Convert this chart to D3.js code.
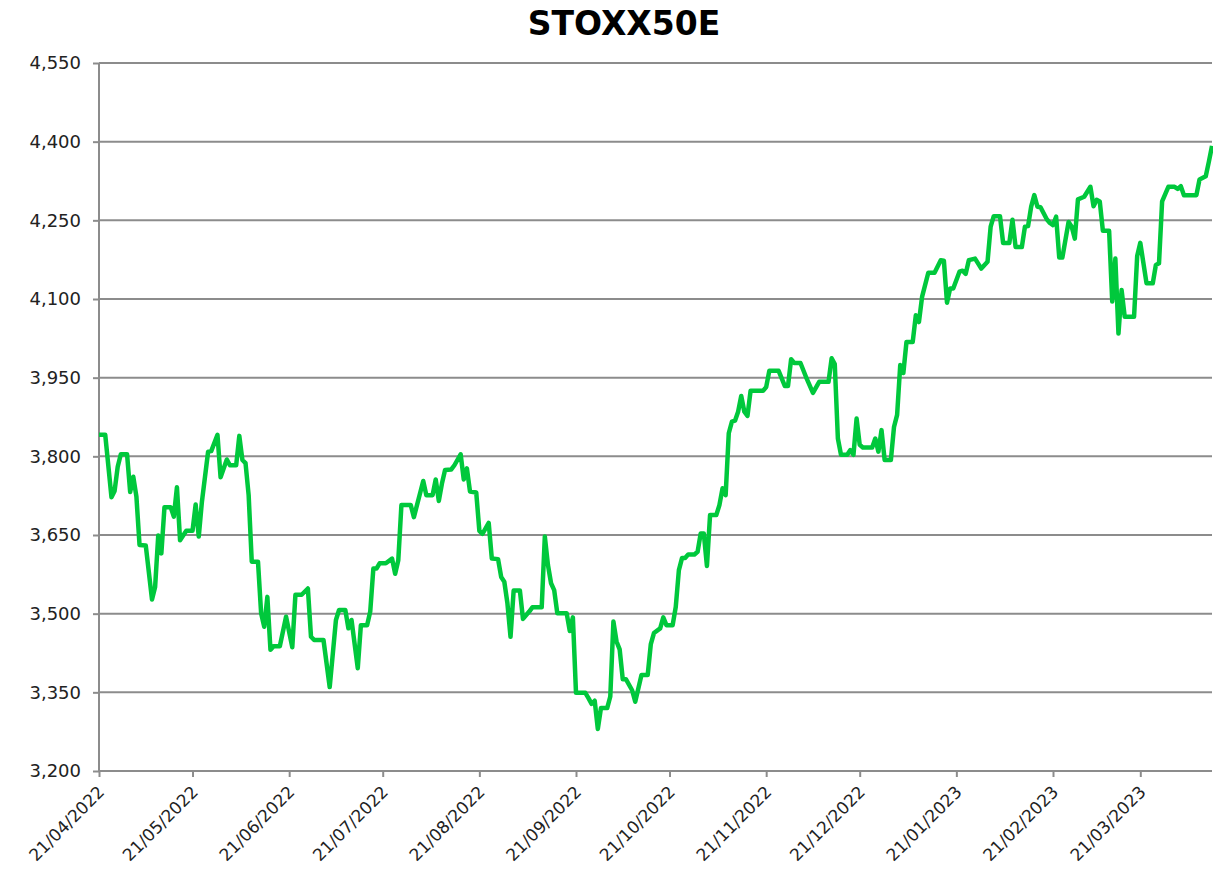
<!DOCTYPE html>
<html>
<head>
<meta charset="utf-8">
<script src="https://cdn.jsdelivr.net/npm/d3@7"></script>
<style>
  body { margin: 0; background: #fff; }
  svg { display: block; font-family: "DejaVu Sans", Verdana, sans-serif; }
  .axis text { fill: #222; font-family: "DejaVu Sans", Verdana, sans-serif; }
  .axis path, .axis line { stroke: #8c8c8c; stroke-width: 2; }
  .grid line { stroke: #8c8c8c; stroke-width: 2; }
</style>
</head>
<body>
<svg id="chart"></svg>
<script>
var title = "STOXX50E";

// closing levels
var dates = [
  "2022-04-21","2022-04-23","2022-04-25","2022-04-26","2022-04-27","2022-04-28","2022-04-30",
  "2022-05-01","2022-05-02","2022-05-03","2022-05-04","2022-05-06","2022-05-08","2022-05-09",
  "2022-05-10","2022-05-11","2022-05-12","2022-05-14","2022-05-15","2022-05-16","2022-05-17",
  "2022-05-19","2022-05-21","2022-05-22","2022-05-23","2022-05-24","2022-05-26","2022-05-27",
  "2022-05-29","2022-05-30","2022-06-01","2022-06-02","2022-06-04","2022-06-05","2022-06-06",
  "2022-06-07","2022-06-08","2022-06-09","2022-06-11","2022-06-12","2022-06-13","2022-06-14",
  "2022-06-15","2022-06-16","2022-06-18","2022-06-20","2022-06-22","2022-06-23","2022-06-25",
  "2022-06-27","2022-06-28","2022-06-29","2022-07-02","2022-07-04","2022-07-06","2022-07-07",
  "2022-07-09","2022-07-10","2022-07-11","2022-07-13","2022-07-14","2022-07-16","2022-07-17",
  "2022-07-18","2022-07-19","2022-07-20","2022-07-22","2022-07-24","2022-07-25","2022-07-26",
  "2022-07-27","2022-07-30","2022-07-31","2022-08-03","2022-08-04","2022-08-06","2022-08-07",
  "2022-08-08","2022-08-09","2022-08-10","2022-08-12","2022-08-13","2022-08-15","2022-08-16",
  "2022-08-17","2022-08-18","2022-08-20","2022-08-21","2022-08-22","2022-08-24","2022-08-25",
  "2022-08-27","2022-08-28","2022-08-29","2022-08-30","2022-08-31","2022-09-01","2022-09-03",
  "2022-09-04","2022-09-06","2022-09-07","2022-09-10","2022-09-11","2022-09-12","2022-09-13",
  "2022-09-14","2022-09-15","2022-09-18","2022-09-19","2022-09-20","2022-09-21","2022-09-24",
  "2022-09-25","2022-09-26","2022-09-27","2022-09-28","2022-09-29","2022-10-01","2022-10-02",
  "2022-10-03","2022-10-04","2022-10-05","2022-10-06","2022-10-07","2022-10-09","2022-10-10",
  "2022-10-12","2022-10-14","2022-10-15","2022-10-16","2022-10-18","2022-10-19","2022-10-20",
  "2022-10-22","2022-10-23","2022-10-24","2022-10-25","2022-10-26","2022-10-27","2022-10-29",
  "2022-10-30","2022-10-31","2022-11-01","2022-11-02","2022-11-03","2022-11-05","2022-11-06",
  "2022-11-07","2022-11-08","2022-11-09","2022-11-10","2022-11-11","2022-11-12","2022-11-13",
  "2022-11-14","2022-11-15","2022-11-16","2022-11-20","2022-11-21","2022-11-22","2022-11-25",
  "2022-11-27","2022-11-28","2022-11-29","2022-11-30","2022-12-02","2022-12-04","2022-12-06",
  "2022-12-08","2022-12-11","2022-12-12","2022-12-13","2022-12-14","2022-12-15","2022-12-17",
  "2022-12-18","2022-12-19","2022-12-20","2022-12-21","2022-12-22","2022-12-25","2022-12-26",
  "2022-12-27","2022-12-28","2022-12-29","2022-12-31","2023-01-01","2023-01-02","2023-01-03",
  "2023-01-04","2023-01-05","2023-01-07","2023-01-08","2023-01-09","2023-01-10","2023-01-12",
  "2023-01-14","2023-01-16","2023-01-17","2023-01-18","2023-01-19","2023-01-20","2023-01-22",
  "2023-01-23","2023-01-24","2023-01-25","2023-01-27","2023-01-29","2023-01-31","2023-02-01",
  "2023-02-02","2023-02-04","2023-02-05","2023-02-07","2023-02-08","2023-02-09","2023-02-11",
  "2023-02-12","2023-02-13","2023-02-14","2023-02-15","2023-02-16","2023-02-17","2023-02-19",
  "2023-02-20","2023-02-21","2023-02-22","2023-02-23","2023-02-24","2023-02-26","2023-02-27",
  "2023-02-28","2023-03-01","2023-03-03","2023-03-05","2023-03-06","2023-03-07","2023-03-08",
  "2023-03-09","2023-03-11","2023-03-12","2023-03-13","2023-03-14","2023-03-15","2023-03-16",
  "2023-03-19","2023-03-20","2023-03-21","2023-03-23","2023-03-25","2023-03-26","2023-03-27",
  "2023-03-28","2023-03-30","2023-04-01","2023-04-02","2023-04-03","2023-04-04","2023-04-08",
  "2023-04-09","2023-04-11","2023-04-12","2023-04-13"
];
var closes = [
  3841,3841,3722,3734,3780,3804,3804,
  3732,3761,3723,3631,3630,3527,3551,
  3649,3615,3703,3703,3685,3741,3640,
  3658,3658,3708,3647,3713,3809,3810,
  3841,3760,3794,3783,3783,3839,3793,
  3787,3726,3599,3599,3501,3475,3532,
  3431,3438,3438,3494,3436,3536,3536,
  3548,3456,3450,3450,3360,3488,3507,
  3507,3472,3488,3396,3478,3478,3504,
  3586,3586,3596,3596,3605,3576,3602,
  3707,3707,3684,3753,3726,3726,3756,
  3715,3748,3774,3775,3783,3804,3756,
  3777,3733,3731,3658,3652,3673,3605,
  3604,3570,3561,3520,3456,3544,3544,
  3490,3504,3512,3512,3647,3593,3558,
  3545,3501,3501,3467,3493,3349,3349,
  3339,3328,3334,3280,3320,3320,3342,
  3485,3447,3432,3375,3375,3354,3332,
  3383,3383,3442,3463,3472,3493,3478,
  3478,3513,3583,3606,3606,3613,3613,
  3618,3653,3653,3591,3688,3688,3707,
  3739,3726,3844,3866,3868,3885,3915,
  3885,3877,3925,3925,3932,3963,3963,
  3934,3934,3985,3978,3978,3948,3921,
  3942,3942,3987,3976,3834,3803,3803,
  3812,3803,3872,3822,3817,3817,3834,
  3809,3850,3793,3793,3856,3879,3974,
  3959,4018,4018,4069,4056,4104,4150,
  4150,4174,4173,4093,4120,4120,4152,
  4154,4148,4174,4177,4158,4171,4238,
  4258,4258,4207,4207,4251,4199,4199,
  4238,4239,4276,4298,4276,4275,4252,
  4245,4241,4257,4179,4179,4247,4238,
  4215,4290,4295,4314,4277,4289,4286,
  4230,4230,4095,4177,4034,4117,4066,
  4066,4182,4207,4130,4130,4165,4168,
  4286,4314,4314,4310,4315,4298,4298,
  4328,4334,4362,4392
];

var yTicks = [3200, 3350, 3500, 3650, 3800, 3950, 4100, 4250, 4400, 4550];
var xTicks = ["2022-04-21","2022-05-21","2022-06-21","2022-07-21","2022-08-21","2022-09-21",
              "2022-10-21","2022-11-21","2022-12-21","2023-01-21","2023-02-21","2023-03-21"];
var xStart = "2022-04-21", xEnd = "2023-04-13";

var width = 1213;
var height = 873;
var margin = {top: 63, right: 1, left: 99, bottom: 102};

var parse = d3.timeParse("%Y-%m-%d");
var data = dates.map((d, i) => ({date: parse(d), value: closes[i]}));

var svg = d3.select("#chart")
    .attr("width", width)
    .attr("height", height);

var x = d3.scaleTime()
    .domain([parse(xStart), parse(xEnd)])
    .range([margin.left, width - margin.right]);

var y = d3.scaleLinear()
    .domain([yTicks[0], yTicks[yTicks.length - 1]])
    .range([height - margin.bottom, margin.top]);

// horizontal gridlines
svg.append("g")
    .attr("class", "grid")
  .selectAll("line")
  .data(yTicks.slice(1))
  .enter()
  .append("line")
    .attr("x1", margin.left)
    .attr("x2", width - margin.right)
    .attr("y1", d => y(d))
    .attr("y2", d => y(d));

// y axis
svg.append("g")
    .attr("class", "axis")
    .attr("transform", "translate(" + margin.left + ",0)")
    .call(d3.axisLeft(y)
      .tickValues(yTicks)
      .tickSize(6)
      .tickPadding(12)
      .tickFormat(d3.format(",")))
    .call(g => g.select(".domain").attr("d", "M0," + y(yTicks[0]) + "V" + y(yTicks[yTicks.length - 1])))
    .selectAll("text")
      .style("font-size", "18px");

// x axis
var xAxis = svg.append("g")
    .attr("class", "axis")
    .attr("transform", "translate(0," + y(yTicks[0]) + ")")
    .call(d3.axisBottom(x)
      .tickValues(xTicks.map(parse))
      .tickSize(6)
      .tickFormat(d3.timeFormat("%d/%m/%Y")));

xAxis.select(".domain").attr("d", "M" + margin.left + ",0H" + (width - margin.right));

xAxis.selectAll("text")
    .style("font-size", "17px")
    .style("text-anchor", "end")
    .attr("x", 0)
    .attr("y", 0)
    .attr("dy", 0)
    .attr("transform", "translate(6,22) rotate(-45)");

// the index line
var line = d3.line()
    .x(d => x(d.date))
    .y(d => y(d.value));

svg.append("path")
    .datum(data)
    .attr("fill", "none")
    .attr("stroke", "#00c83c")
    .attr("stroke-width", 4.5)
    .attr("stroke-linejoin", "round")
    .attr("d", line);

// title
svg.append("text")
    .attr("x", 624)
    .attr("y", 35)
    .attr("text-anchor", "middle")
    .style("font-size", "33px")
    .style("font-weight", "bold")
    .style("fill", "#000")
    .text(title);
</script>
</body>
</html>
